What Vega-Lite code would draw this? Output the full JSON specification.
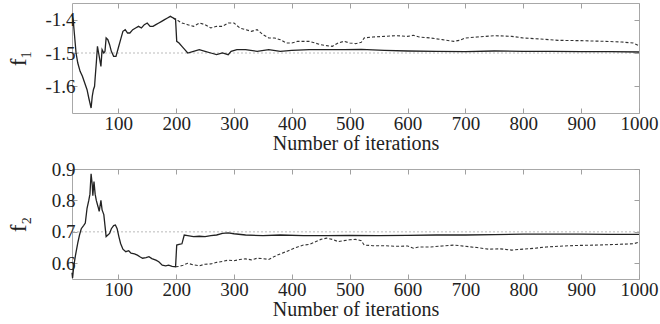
{
  "$schema": "https://vega.github.io/schema/vega-lite/v6.json",
  "padding": {"left": 6, "top": 2, "right": 0, "bottom": 0},
  "spacing": 5,
  "config": {
    "font": "Liberation Serif",
    "view": {"stroke": "#a8a8a8", "strokeWidth": 1},
    "axis": {
      "domain": false, "grid": false, "tickColor": "#a0a0a0", "tickSize": -5, "tickWidth": 1, "labelFlush": false,
      "labelFont": "Liberation Serif", "labelFontSize": 19, "labelColor": "#222",
      "titleFont": "Liberation Serif", "titleFontSize": 20, "titleFontWeight": "normal", "titleColor": "#222"
    }
  },
  "datasets": {
    "top": [
      {"it":20,"v":-1.385,"s":"a"},{"it":22,"v":-1.40,"s":"a"},{"it":24,"v":-1.44,"s":"a"},{"it":27,"v":-1.50,"s":"a"},{"it":30,"v":-1.53,"s":"a"},{"it":34,"v":-1.555,"s":"a"},{"it":38,"v":-1.57,"s":"a"},{"it":42,"v":-1.59,"s":"a"},{"it":46,"v":-1.61,"s":"a"},{"it":49,"v":-1.635,"s":"a"},{"it":51,"v":-1.65,"s":"a"},{"it":53,"v":-1.665,"s":"a"},{"it":55,"v":-1.63,"s":"a"},{"it":57,"v":-1.61,"s":"a"},{"it":59,"v":-1.60,"s":"a"},{"it":60,"v":-1.575,"s":"a"},{"it":62,"v":-1.53,"s":"a"},{"it":64,"v":-1.48,"s":"a"},{"it":66,"v":-1.50,"s":"a"},{"it":68,"v":-1.52,"s":"a"},{"it":70,"v":-1.54,"s":"a"},{"it":72,"v":-1.49,"s":"a"},{"it":75,"v":-1.50,"s":"a"},{"it":77,"v":-1.495,"s":"a"},{"it":79,"v":-1.455,"s":"a"},{"it":82,"v":-1.46,"s":"a"},{"it":85,"v":-1.475,"s":"a"},{"it":88,"v":-1.495,"s":"a"},{"it":92,"v":-1.51,"s":"a"},{"it":96,"v":-1.51,"s":"a"},{"it":100,"v":-1.485,"s":"a"},{"it":104,"v":-1.46,"s":"a"},{"it":108,"v":-1.435,"s":"a"},{"it":112,"v":-1.43,"s":"a"},{"it":116,"v":-1.44,"s":"a"},{"it":120,"v":-1.44,"s":"a"},{"it":125,"v":-1.43,"s":"a"},{"it":130,"v":-1.425,"s":"a"},{"it":135,"v":-1.42,"s":"a"},{"it":140,"v":-1.425,"s":"a"},{"it":145,"v":-1.415,"s":"a"},{"it":150,"v":-1.41,"s":"a"},{"it":155,"v":-1.42,"s":"a"},{"it":160,"v":-1.42,"s":"a"},{"it":165,"v":-1.415,"s":"a"},{"it":170,"v":-1.41,"s":"a"},{"it":175,"v":-1.405,"s":"a"},{"it":180,"v":-1.40,"s":"a"},{"it":185,"v":-1.395,"s":"a"},{"it":190,"v":-1.39,"s":"a"},{"it":195,"v":-1.395,"s":"a"},{"it":199,"v":-1.40,"s":"a"},{"it":201,"v":-1.465,"s":"a"},{"it":205,"v":-1.47,"s":"a"},{"it":210,"v":-1.48,"s":"a"},{"it":215,"v":-1.49,"s":"a"},{"it":220,"v":-1.50,"s":"a"},{"it":230,"v":-1.495,"s":"a"},{"it":240,"v":-1.49,"s":"a"},{"it":250,"v":-1.495,"s":"a"},{"it":260,"v":-1.50,"s":"a"},{"it":270,"v":-1.505,"s":"a"},{"it":280,"v":-1.50,"s":"a"},{"it":290,"v":-1.505,"s":"a"},{"it":295,"v":-1.495,"s":"a"},{"it":305,"v":-1.49,"s":"a"},{"it":320,"v":-1.49,"s":"a"},{"it":340,"v":-1.495,"s":"a"},{"it":360,"v":-1.49,"s":"a"},{"it":380,"v":-1.495,"s":"a"},{"it":400,"v":-1.492,"s":"a"},{"it":430,"v":-1.49,"s":"a"},{"it":460,"v":-1.49,"s":"a"},{"it":490,"v":-1.49,"s":"a"},{"it":520,"v":-1.489,"s":"a"},{"it":560,"v":-1.492,"s":"a"},{"it":600,"v":-1.494,"s":"a"},{"it":650,"v":-1.495,"s":"a"},{"it":700,"v":-1.496,"s":"a"},{"it":750,"v":-1.494,"s":"a"},{"it":800,"v":-1.495,"s":"a"},{"it":850,"v":-1.495,"s":"a"},{"it":900,"v":-1.496,"s":"a"},{"it":950,"v":-1.496,"s":"a"},{"it":1000,"v":-1.497,"s":"a"},
      {"it":195,"v":-1.395,"s":"b"},{"it":200,"v":-1.398,"s":"b"},{"it":205,"v":-1.405,"s":"b"},{"it":210,"v":-1.41,"s":"b"},{"it":220,"v":-1.415,"s":"b"},{"it":230,"v":-1.42,"s":"b"},{"it":240,"v":-1.41,"s":"b"},{"it":250,"v":-1.415,"s":"b"},{"it":260,"v":-1.425,"s":"b"},{"it":270,"v":-1.42,"s":"b"},{"it":280,"v":-1.42,"s":"b"},{"it":290,"v":-1.41,"s":"b"},{"it":300,"v":-1.41,"s":"b"},{"it":310,"v":-1.425,"s":"b"},{"it":320,"v":-1.43,"s":"b"},{"it":330,"v":-1.435,"s":"b"},{"it":340,"v":-1.43,"s":"b"},{"it":350,"v":-1.445,"s":"b"},{"it":360,"v":-1.455,"s":"b"},{"it":370,"v":-1.455,"s":"b"},{"it":380,"v":-1.46,"s":"b"},{"it":390,"v":-1.47,"s":"b"},{"it":400,"v":-1.47,"s":"b"},{"it":410,"v":-1.465,"s":"b"},{"it":420,"v":-1.465,"s":"b"},{"it":430,"v":-1.465,"s":"b"},{"it":440,"v":-1.47,"s":"b"},{"it":450,"v":-1.475,"s":"b"},{"it":460,"v":-1.478,"s":"b"},{"it":470,"v":-1.48,"s":"b"},{"it":480,"v":-1.47,"s":"b"},{"it":490,"v":-1.465,"s":"b"},{"it":500,"v":-1.47,"s":"b"},{"it":510,"v":-1.472,"s":"b"},{"it":520,"v":-1.468,"s":"b"},{"it":525,"v":-1.455,"s":"b"},{"it":540,"v":-1.452,"s":"b"},{"it":560,"v":-1.45,"s":"b"},{"it":580,"v":-1.448,"s":"b"},{"it":600,"v":-1.45,"s":"b"},{"it":610,"v":-1.447,"s":"b"},{"it":620,"v":-1.452,"s":"b"},{"it":640,"v":-1.455,"s":"b"},{"it":660,"v":-1.46,"s":"b"},{"it":680,"v":-1.465,"s":"b"},{"it":690,"v":-1.462,"s":"b"},{"it":700,"v":-1.455,"s":"b"},{"it":720,"v":-1.452,"s":"b"},{"it":750,"v":-1.448,"s":"b"},{"it":780,"v":-1.45,"s":"b"},{"it":800,"v":-1.455,"s":"b"},{"it":830,"v":-1.458,"s":"b"},{"it":860,"v":-1.462,"s":"b"},{"it":900,"v":-1.463,"s":"b"},{"it":940,"v":-1.465,"s":"b"},{"it":970,"v":-1.467,"s":"b"},{"it":990,"v":-1.47,"s":"b"},{"it":1000,"v":-1.478,"s":"b"}
    ],
    "bottom": [
      {"it":20,"v":0.57,"s":"a"},{"it":21,"v":0.553,"s":"a"},{"it":23,"v":0.59,"s":"a"},{"it":26,"v":0.625,"s":"a"},{"it":30,"v":0.665,"s":"a"},{"it":33,"v":0.69,"s":"a"},{"it":36,"v":0.71,"s":"a"},{"it":40,"v":0.72,"s":"a"},{"it":43,"v":0.728,"s":"a"},{"it":46,"v":0.775,"s":"a"},{"it":49,"v":0.80,"s":"a"},{"it":51,"v":0.82,"s":"a"},{"it":53,"v":0.885,"s":"a"},{"it":55,"v":0.85,"s":"a"},{"it":56,"v":0.815,"s":"a"},{"it":58,"v":0.86,"s":"a"},{"it":60,"v":0.82,"s":"a"},{"it":62,"v":0.80,"s":"a"},{"it":65,"v":0.78,"s":"a"},{"it":67,"v":0.765,"s":"a"},{"it":70,"v":0.80,"s":"a"},{"it":72,"v":0.77,"s":"a"},{"it":75,"v":0.755,"s":"a"},{"it":77,"v":0.72,"s":"a"},{"it":79,"v":0.685,"s":"a"},{"it":82,"v":0.69,"s":"a"},{"it":85,"v":0.695,"s":"a"},{"it":88,"v":0.71,"s":"a"},{"it":92,"v":0.72,"s":"a"},{"it":95,"v":0.722,"s":"a"},{"it":98,"v":0.71,"s":"a"},{"it":101,"v":0.685,"s":"a"},{"it":104,"v":0.663,"s":"a"},{"it":108,"v":0.645,"s":"a"},{"it":113,"v":0.637,"s":"a"},{"it":118,"v":0.64,"s":"a"},{"it":122,"v":0.632,"s":"a"},{"it":128,"v":0.63,"s":"a"},{"it":133,"v":0.626,"s":"a"},{"it":138,"v":0.62,"s":"a"},{"it":142,"v":0.616,"s":"a"},{"it":148,"v":0.618,"s":"a"},{"it":153,"v":0.621,"s":"a"},{"it":158,"v":0.615,"s":"a"},{"it":165,"v":0.61,"s":"a"},{"it":170,"v":0.605,"s":"a"},{"it":176,"v":0.594,"s":"a"},{"it":182,"v":0.592,"s":"a"},{"it":187,"v":0.594,"s":"a"},{"it":193,"v":0.59,"s":"a"},{"it":199,"v":0.589,"s":"a"},{"it":201,"v":0.658,"s":"a"},{"it":205,"v":0.66,"s":"a"},{"it":210,"v":0.662,"s":"a"},{"it":214,"v":0.69,"s":"a"},{"it":220,"v":0.688,"s":"a"},{"it":230,"v":0.685,"s":"a"},{"it":240,"v":0.686,"s":"a"},{"it":250,"v":0.685,"s":"a"},{"it":260,"v":0.688,"s":"a"},{"it":270,"v":0.69,"s":"a"},{"it":280,"v":0.695,"s":"a"},{"it":290,"v":0.697,"s":"a"},{"it":300,"v":0.694,"s":"a"},{"it":320,"v":0.69,"s":"a"},{"it":350,"v":0.688,"s":"a"},{"it":380,"v":0.69,"s":"a"},{"it":420,"v":0.688,"s":"a"},{"it":460,"v":0.688,"s":"a"},{"it":500,"v":0.689,"s":"a"},{"it":550,"v":0.688,"s":"a"},{"it":600,"v":0.689,"s":"a"},{"it":650,"v":0.69,"s":"a"},{"it":700,"v":0.69,"s":"a"},{"it":750,"v":0.691,"s":"a"},{"it":800,"v":0.693,"s":"a"},{"it":850,"v":0.693,"s":"a"},{"it":900,"v":0.693,"s":"a"},{"it":950,"v":0.692,"s":"a"},{"it":1000,"v":0.692,"s":"a"},
      {"it":199,"v":0.589,"s":"b"},{"it":205,"v":0.59,"s":"b"},{"it":212,"v":0.594,"s":"b"},{"it":220,"v":0.60,"s":"b"},{"it":230,"v":0.595,"s":"b"},{"it":240,"v":0.592,"s":"b"},{"it":250,"v":0.597,"s":"b"},{"it":260,"v":0.598,"s":"b"},{"it":270,"v":0.603,"s":"b"},{"it":280,"v":0.606,"s":"b"},{"it":290,"v":0.61,"s":"b"},{"it":300,"v":0.608,"s":"b"},{"it":310,"v":0.612,"s":"b"},{"it":320,"v":0.614,"s":"b"},{"it":330,"v":0.611,"s":"b"},{"it":340,"v":0.616,"s":"b"},{"it":350,"v":0.615,"s":"b"},{"it":360,"v":0.612,"s":"b"},{"it":370,"v":0.622,"s":"b"},{"it":380,"v":0.63,"s":"b"},{"it":390,"v":0.637,"s":"b"},{"it":400,"v":0.645,"s":"b"},{"it":410,"v":0.652,"s":"b"},{"it":420,"v":0.658,"s":"b"},{"it":430,"v":0.66,"s":"b"},{"it":440,"v":0.668,"s":"b"},{"it":450,"v":0.676,"s":"b"},{"it":460,"v":0.68,"s":"b"},{"it":470,"v":0.676,"s":"b"},{"it":480,"v":0.669,"s":"b"},{"it":490,"v":0.672,"s":"b"},{"it":500,"v":0.675,"s":"b"},{"it":510,"v":0.676,"s":"b"},{"it":520,"v":0.672,"s":"b"},{"it":525,"v":0.658,"s":"b"},{"it":540,"v":0.656,"s":"b"},{"it":560,"v":0.656,"s":"b"},{"it":580,"v":0.654,"s":"b"},{"it":600,"v":0.655,"s":"b"},{"it":610,"v":0.648,"s":"b"},{"it":620,"v":0.652,"s":"b"},{"it":640,"v":0.652,"s":"b"},{"it":660,"v":0.655,"s":"b"},{"it":680,"v":0.658,"s":"b"},{"it":700,"v":0.654,"s":"b"},{"it":720,"v":0.65,"s":"b"},{"it":740,"v":0.645,"s":"b"},{"it":760,"v":0.646,"s":"b"},{"it":780,"v":0.642,"s":"b"},{"it":800,"v":0.645,"s":"b"},{"it":820,"v":0.648,"s":"b"},{"it":840,"v":0.652,"s":"b"},{"it":860,"v":0.654,"s":"b"},{"it":880,"v":0.656,"s":"b"},{"it":900,"v":0.657,"s":"b"},{"it":930,"v":0.658,"s":"b"},{"it":960,"v":0.66,"s":"b"},{"it":990,"v":0.662,"s":"b"},{"it":1000,"v":0.667,"s":"b"}
    ],
    "refTop": [{"r": -1.5}],
    "refBottom": [{"r": 0.7}]
  },
  "vconcat": [
    {
      "width": 567, "height": 110,
      "layer": [
        {
          "data": {"name": "refTop"},
          "mark": {"type": "rule", "color": "#aaaaaa", "strokeDash": [2, 2], "strokeWidth": 0.8},
          "encoding": {"y": {"field": "r", "type": "quantitative", "axis": null}}
        },
        {
          "data": {"name": "top"},
          "transform": [{"filter": "datum.s == 'b'"}],
          "mark": {"type": "line", "color": "#333", "strokeWidth": 1.1, "strokeDash": [3, 2]},
          "encoding": {
            "x": {"field": "it", "type": "quantitative", "scale": {"domain": [20, 1000], "nice": false, "zero": false},
                  "axis": {"orient": "top", "values": [100,200,300,400,500,600,700,800,900,1000], "labels": false, "title": null}},
            "y": {"field": "v", "type": "quantitative", "scale": {"domain": [-1.68, -1.35], "nice": false, "zero": false},
                  "axis": {"orient": "right", "values": [-1.6,-1.5,-1.4], "labels": false, "title": null}}
          }
        },
        {
          "data": {"name": "top"},
          "transform": [{"filter": "datum.s == 'a'"}],
          "mark": {"type": "line", "color": "#222", "strokeWidth": 1.3},
          "encoding": {
            "x": {"field": "it", "type": "quantitative", "scale": {"domain": [20, 1000], "nice": false, "zero": false},
                  "axis": {"orient": "bottom", "values": [100,200,300,400,500,600,700,800,900,1000], "format": "d", "title": "Number of iterations", "labelPadding": 6, "titlePadding": 0}},
            "y": {"field": "v", "type": "quantitative", "scale": {"domain": [-1.68, -1.35], "nice": false, "zero": false},
                  "axis": {"orient": "left", "values": [-1.6,-1.5,-1.4], "title": "f₁", "titleFontSize": 23, "labelPadding": 2, "titlePadding": 8, "minExtent": 34, "maxExtent": 34,
                           "labelExpr": "replace(format(datum.value, '.1f'), '\u2212', '-')"}}
          }
        }
      ],
      "resolve": {"axis": {"x": "independent", "y": "independent"}}
    },
    {
      "width": 567, "height": 110,
      "layer": [
        {
          "data": {"name": "refBottom"},
          "mark": {"type": "rule", "color": "#aaaaaa", "strokeDash": [2, 2], "strokeWidth": 0.8},
          "encoding": {"y": {"field": "r", "type": "quantitative", "axis": null}}
        },
        {
          "data": {"name": "bottom"},
          "transform": [{"filter": "datum.s == 'b'"}],
          "mark": {"type": "line", "color": "#333", "strokeWidth": 1.1, "strokeDash": [3, 2]},
          "encoding": {
            "x": {"field": "it", "type": "quantitative", "scale": {"domain": [20, 1000], "nice": false, "zero": false},
                  "axis": {"orient": "top", "values": [100,200,300,400,500,600,700,800,900,1000], "labels": false, "title": null}},
            "y": {"field": "v", "type": "quantitative", "scale": {"domain": [0.55, 0.9], "nice": false, "zero": false},
                  "axis": {"orient": "right", "values": [0.6,0.7,0.8,0.9], "labels": false, "title": null}}
          }
        },
        {
          "data": {"name": "bottom"},
          "transform": [{"filter": "datum.s == 'a'"}],
          "mark": {"type": "line", "color": "#222", "strokeWidth": 1.3},
          "encoding": {
            "x": {"field": "it", "type": "quantitative", "scale": {"domain": [20, 1000], "nice": false, "zero": false},
                  "axis": {"orient": "bottom", "values": [100,200,300,400,500,600,700,800,900,1000], "format": "d", "title": "Number of iterations", "labelPadding": 6, "titlePadding": 0}},
            "y": {"field": "v", "type": "quantitative", "scale": {"domain": [0.55, 0.9], "nice": false, "zero": false},
                  "axis": {"orient": "left", "values": [0.6,0.7,0.8,0.9], "title": "f₂", "titleFontSize": 23, "labelPadding": 2, "titlePadding": 8, "minExtent": 34, "maxExtent": 34, "format": ".1f"}}
          }
        }
      ],
      "resolve": {"axis": {"x": "independent", "y": "independent"}}
    }
  ]
}
